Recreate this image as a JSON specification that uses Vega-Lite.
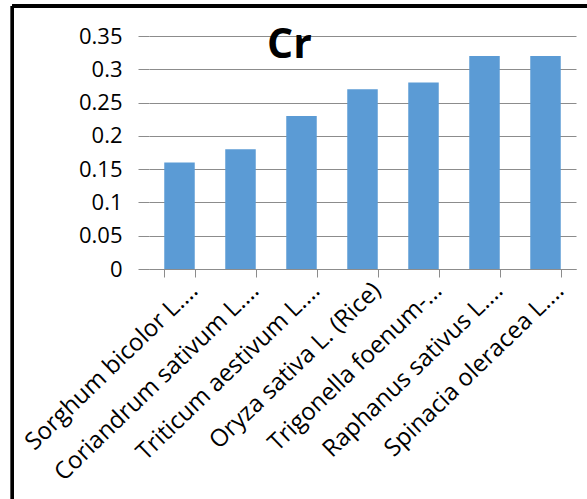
{
  "$schema": "https://vega.github.io/schema/vega-lite/v6.json",
  "width": 427,
  "height": 233,
  "autosize": {"type": "none"},
  "padding": {"left": 149, "top": 36, "right": 11, "bottom": 230},
  "background": "white",
  "config": {
    "view": {"stroke": null},
    "font": "Open Sans",
    "axis": {"labelFont": "Open Sans", "labelColor": "#000000"}
  },
  "title": {
    "text": "Cr",
    "font": "Open Sans",
    "fontSize": 41,
    "fontWeight": "bold",
    "color": "#000000",
    "anchor": "start",
    "frame": "group",
    "baseline": "alphabetic",
    "offset": 0,
    "dy": 95,
    "dx": 118
  },
  "data": {
    "values": [
      {"plant": "Sorghum bicolor L.…", "cr": 0.16},
      {"plant": "Coriandrum sativum L.…", "cr": 0.18},
      {"plant": "Triticum aestivum L.…", "cr": 0.23},
      {"plant": "Oryza sativa L. (Rice)", "cr": 0.27},
      {"plant": "Trigonella foenum-…", "cr": 0.28},
      {"plant": "Raphanus sativus L.…", "cr": 0.32},
      {"plant": "Spinacia oleracea L.…", "cr": 0.32}
    ]
  },
  "resolve": {"scale": {"x": "independent", "y": "independent"}},
  "layer": [
    {
      "mark": {"type": "bar", "color": "#5B9BD5"},
      "encoding": {
        "x": {
          "field": "plant",
          "type": "nominal",
          "sort": null,
          "scale": {"paddingInner": 0.5, "paddingOuter": 0.25},
          "axis": {
            "title": null,
            "domainColor": "#8c8c8c",
            "domainWidth": 1,
            "tickBand": "extent",
            "tickColor": "#8c8c8c",
            "tickSize": 8,
            "labelAngle": -44,
            "labelAlign": "right",
            "labelBaseline": "top",
            "labelPadding": 1,
            "labelOffset": 6,
            "labelFontSize": 24,
            "labelLimit": 400
          }
        },
        "y": {
          "field": "cr",
          "type": "quantitative",
          "scale": {"domain": [0, 0.35], "nice": false},
          "axis": {
            "title": null,
            "values": [0, 0.05, 0.1, 0.15, 0.2, 0.25, 0.3, 0.35],
            "format": "~g",
            "domain": false,
            "grid": true,
            "gridColor": "#8c8c8c",
            "gridWidth": 1,
            "tickColor": "#8c8c8c",
            "tickSize": 11,
            "labelPadding": 16,
            "labelFontSize": 22
          }
        }
      }
    },
    {
      "mark": {"type": "rule", "color": "#000000", "strokeWidth": 3, "clip": false},
      "encoding": {
        "x": {"datum": -0.32, "type": "quantitative", "scale": {"domain": [0, 1]}, "axis": null},
        "y": {"datum": -1.05, "type": "quantitative", "scale": {"domain": [0, 1]}, "axis": null},
        "y2": {"datum": 1.129}
      }
    },
    {
      "mark": {"type": "rule", "color": "#000000", "strokeWidth": 3, "clip": false},
      "encoding": {
        "x": {"datum": -0.32, "type": "quantitative", "scale": {"domain": [0, 1]}, "axis": null},
        "x2": {"datum": 1.05},
        "y": {"datum": 1.129, "type": "quantitative", "scale": {"domain": [0, 1]}, "axis": null}
      }
    }
  ]
}
